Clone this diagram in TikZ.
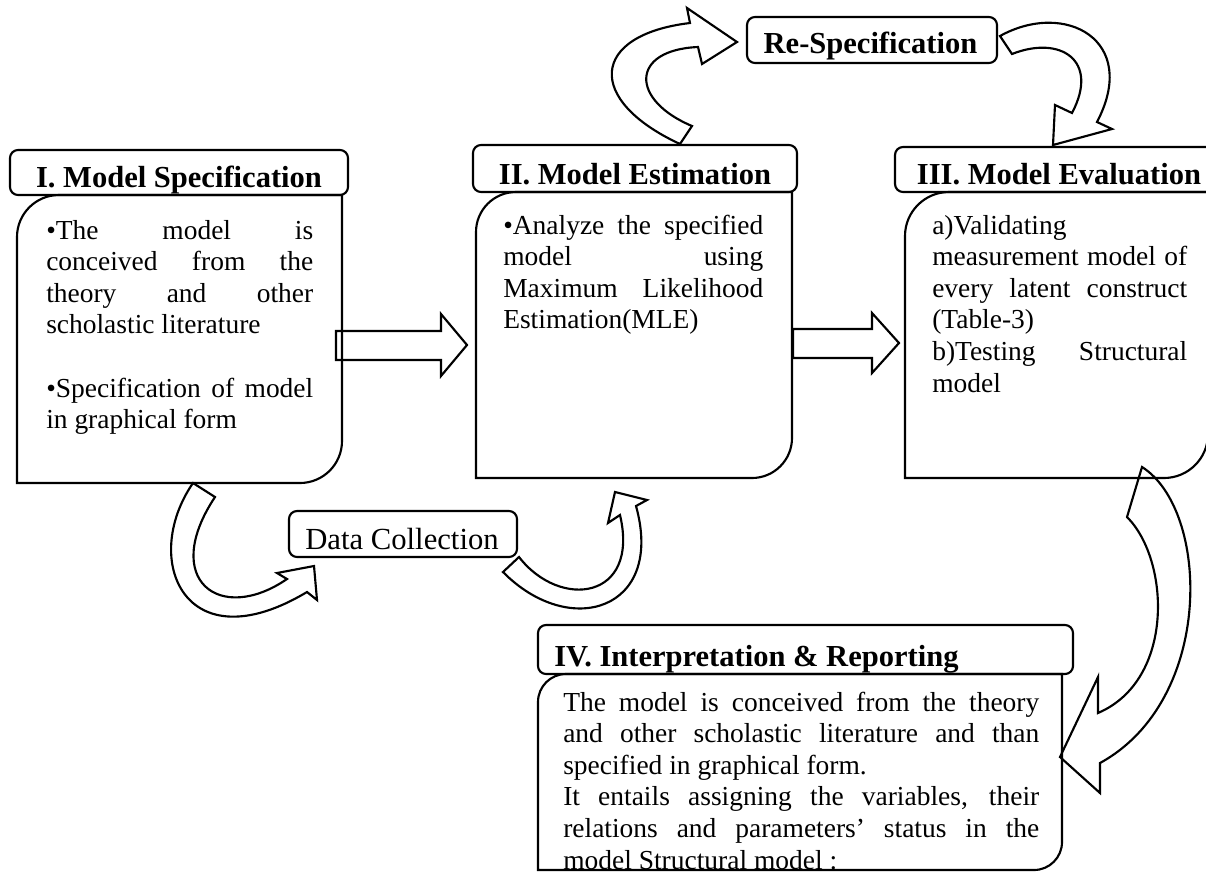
\documentclass[tikz,border=0pt]{standalone}
\usepackage{fontspec}
\setmainfont{Liberation Serif}
\tolerance=10000
\hbadness=10000
\hyphenpenalty=10000
\exhyphenpenalty=10000
\newcommand{\bodyshape}[5]{% left top right bottom radius
  \draw[boxline] (#1,#4) -- (#1,{#2+#5})
    .. controls (#1,{#2+0.448*#5}) and ({#1+0.448*#5},#2) .. ({#1+#5},#2)
    -- (#3,#2) -- (#3,{#4-#5})
    .. controls (#3,{#4-0.448*#5}) and ({#3-0.448*#5},#4) .. ({#3-#5},#4)
    -- cycle;}
\tikzset{
  boxline/.style={line width=1.6pt},
  titlebox/.style={draw, line width=1.6pt, rounded corners=6pt, inner sep=0pt},
  blockarrow/.style={draw, line width=1.6pt, fill=white, line join=miter},
  bodytext/.style={anchor=base west, inner sep=0pt, align=justify,
    font=\fontsize{20.6}{23.7}\selectfont},
  titletext/.style={anchor=base, inner sep=0pt,
    font=\fontsize{22.9}{27}\selectfont\bfseries},
}
\begin{document}
\begin{tikzpicture}[x=0.75pt,y=-0.75pt]
\useasboundingbox (0,0) rectangle (1206,872);
\clip (0,0) rectangle (1206,872);

% ---- block arrows (drawn first) ----
% I -> II
\draw[blockarrow] (336,331) -- (441,331) -- (441,314) -- (467,345) -- (441,376) -- (441,360) -- (336,360) -- cycle;
% II -> III
\draw[blockarrow] (793,329) -- (872,329) -- (872,313) -- (899,343) -- (872,373) -- (872,358) -- (793,358) -- cycle;
% II -> Re-Specification
\draw[blockarrow] (680,144) .. controls (585,100) and (590,35) .. (690,23)
  -- (687,8) -- (737,42) -- (702,64) -- (698,47)
  .. controls (630,50) and (630,100) .. (692,126) -- cycle;
% Re-Specification -> III
\draw[blockarrow] (1000,36) .. controls (1065,0) and (1140,40) .. (1097,122)
  -- (1112,129) -- (1053,145) -- (1055,105) -- (1072,113)
  .. controls (1100,60) and (1060,35) .. (1012,54) -- cycle;
% I -> Data Collection
\draw[blockarrow] (193,483) .. controls (140,560) and (185,665) .. (307,592)
  -- (317,600) -- (314,566) -- (277,573) -- (287,579)
  .. controls (220,625) and (160,580) .. (215,497) -- cycle;
% Data Collection -> II
\draw[blockarrow] (503,572) .. controls (570,640) and (665,610) .. (636,506)
  -- (647,500) -- (615,492) -- (608,523) -- (620,515)
  .. controls (640,600) and (560,610) .. (519,557) -- cycle;
% III -> IV
\draw[blockarrow] (1142,467) .. controls (1210,510) and (1215,700) .. (1100,763)
  -- (1100,793) -- (1060,757) -- (1098,677) -- (1098,713)
  .. controls (1175,680) and (1170,560) .. (1127,517) -- cycle;

% ---- bodies ----
\bodyshape{17}{195}{342}{483}{42}
\bodyshape{476}{192}{792}{478}{40}
\bodyshape{905}{192}{1208}{478}{44}
\bodyshape{538}{674}{1062}{870}{28}

% ---- title boxes ----
\node[titlebox, minimum width=253.5pt, minimum height=33.75pt] (t1) at (179,172.5) {};
\node[titlebox, minimum width=243pt, minimum height=35.25pt] (t2) at (635,168.5) {};
\node[titlebox, minimum width=246pt, minimum height=33.75pt] (t3) at (1059,169.5) {};
\node[titlebox, minimum width=401.25pt, minimum height=36.75pt] (t4) at (805.5,649.5) {};
\node[titlebox, minimum width=187.5pt, minimum height=34.5pt] (rs) at (872,40) {};
\node[titlebox, minimum width=171pt, minimum height=34.5pt] (dc) at (403,534) {};

\node[titletext] (t1txt) at (179,187) {I. Model Specification};
\node[titletext] (t2txt) at (635,184) {II. Model Estimation};
\node[titletext] (t3txt) at (1059,184) {III. Model Evaluation};
\node[titletext, anchor=base west] (t4txt) at (554,666) {IV. Interpretation \& Reporting};
\node[titletext] (rstxt) at (870.5,53) {Re-Specification};
\node[titletext, font=\fontsize{23}{27}\selectfont] (dctxt) at (402,549) {Data Collection};

% ---- body texts ----
\node[bodytext, text width=200.25pt] (b1) at (46,239) {%
•The model is\linebreak conceived from the\linebreak theory and other\linebreak scholastic literature\par
\vspace{\baselineskip}%
•Specification of model\linebreak in graphical form};
\node[bodytext, text width=195pt] (b2) at (503,234) {%
•Analyze the specified\linebreak model using\linebreak Maximum Likelihood\linebreak Estimation(MLE)};
\node[bodytext, text width=191.25pt] (b3) at (932,234) {%
a)Validating\newline measurement model of\linebreak every latent construct\linebreak (Table-3)\newline b)Testing Structural\linebreak model};
\node[bodytext, text width=357pt] (b4) at (563,711) {%
The model is conceived from the theory\linebreak and other scholastic literature and than\linebreak specified in graphical form.\newline It entails assigning the variables, their\linebreak relations and parameters’ status in the\linebreak model Structural model :};
\end{tikzpicture}
\end{document}
